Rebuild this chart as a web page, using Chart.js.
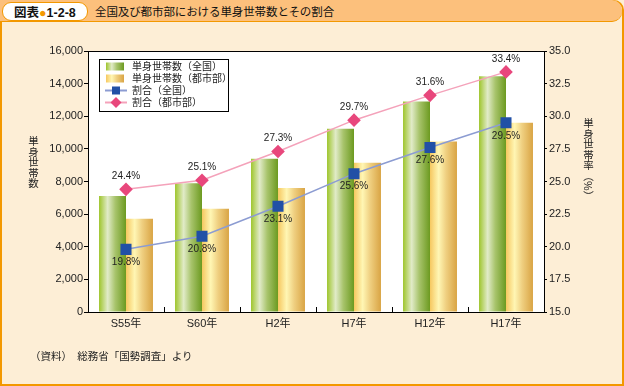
<!DOCTYPE html>
<html>
<head>
<meta charset="utf-8">
<script src="https://cdn.jsdelivr.net/npm/chart.js@4.4.0/dist/chart.umd.min.js"></script>
<style>
  html, body { margin: 0; padding: 0; background: #fdeed6; }
  #wrap { position: relative; width: 624px; height: 386px; overflow: hidden; font-family: "Noto Sans CJK JP", sans-serif; }
  #frame { position: absolute; left: 0; top: 0; width: 620px; height: 382px; border: 2px solid #f39800; border-radius: 0 10px 0 0; background: #fdeed6; }
  #titlebar { position: absolute; left: 0; top: 0; width: 622px; height: 21px; background: #fcc07c; border-bottom: 1.5px solid #f39800; border-radius: 0 10px 10px 0; }
  #pill { position: absolute; left: 2px; top: 2px; width: 84px; height: 17px; background: #fff; border: 1px solid #f39800; border-radius: 9px; font-size: 12.5px; font-weight: bold; line-height: 17px; color: #111; }
  #pill .a { position: absolute; left: 11px; top: 0; }
  #pill .dot { color: #f39800; font-family: "Liberation Sans", sans-serif; }
  #pill .n { font-family: "Liberation Sans", Arial, sans-serif; }
  #title { position: absolute; left: 95px; top: 3px; font-size: 11.5px; line-height: 17px; color: #111; letter-spacing: -0.1px; }
  canvas { position: absolute; left: 0; top: 0; }
  .vt { position: absolute; writing-mode: vertical-rl; text-orientation: mixed; font-size: 10.5px; color: #222; line-height: 11px; }
  #footer { position: absolute; left: 30px; top: 348px; font-size: 10.5px; color: #222; white-space: pre; }
</style>
</head>
<body>
<div id="wrap">
  <div id="frame"></div>
  <div id="titlebar"></div>
  <div id="pill"><span class="a">図表<span class="dot">●</span><span class="n">1-2-8</span></span></div>
  <div id="title">全国及び都市部における単身世帯数とその割合</div>
  <canvas id="c" width="624" height="386"></canvas>
  <div class="vt" style="left:28px; top:136px;">単身世帯数</div>
  <div class="vt" style="left:583px; top:118px;">単身世帯率（%）</div>
  <div id="footer">（資料）　総務省「国勢調査」より</div>
</div>
<script>
// ---- data ----
const categories = ["S55年", "S60年", "H2年", "H7年", "H12年", "H17年"];
const householdsNational = [7105, 7895, 9390, 11239, 12911, 14457];
const householdsUrban = [5720, 6330, 7600, 9150, 10450, 11600];
const rateNational = [19.8, 20.8, 23.1, 25.6, 27.6, 29.5];
const rateUrban = [24.4, 25.1, 27.3, 29.7, 31.6, 33.4];
const seriesNames = ["単身世帯数（全国）", "単身世帯数（都市部）", "割合（全国）", "割合（都市部）"];

const CAT_PCT = 0.71;
const greenStops = [[0, '#9ec52c'], [0.32, '#e1ebc8'], [0.6, '#a8c46c'], [1, '#6c9a20']];
const yellowStops = [[0, '#f6c860'], [0.32, '#fff6b4'], [0.6, '#efcf80'], [1, '#d9a444']];

function barGradient(ctx, stops, fallback) {
  const chart = ctx.chart;
  const xs = chart.scales && chart.scales.x;
  if (!xs || ctx.type !== 'data' || !xs.width) return fallback;
  const center = xs.getPixelForValue(ctx.dataIndex);
  const catW = xs.width / categories.length;
  const barW = catW * CAT_PCT / 2;
  const x0 = ctx.datasetIndex === 0 ? center - barW : center;
  const g = chart.ctx.createLinearGradient(x0, 0, x0 + barW, 0);
  stops.forEach(s => g.addColorStop(s[0], s[1]));
  return g;
}

const LABEL_FONT = '10px "Liberation Sans", Arial, sans-serif';
const JP_FONT = '10px "Noto Sans CJK JP", sans-serif';

const framePlugin = {
  id: 'framePlugin',
  beforeDraw(chart) {
    const a = chart.chartArea, c = chart.ctx;
    c.save();
    c.fillStyle = '#ffffff';
    c.fillRect(a.left, a.top, a.right - a.left, a.bottom - a.top);
    c.restore();
  },
  afterDatasetsDraw(chart) {
    const c = chart.ctx, a = chart.chartArea;
    // value labels
    c.save();
    c.font = LABEL_FONT;
    c.fillStyle = '#222';
    c.textAlign = 'center';
    c.textBaseline = 'middle';
    [2, 3].forEach(di => {
      const meta = chart.getDatasetMeta(di);
      const vals = chart.data.datasets[di].data;
      meta.data.forEach((pt, i) => {
        const dy = di === 3 ? -13 : 13;
        c.fillText(vals[i].toFixed(1) + '%', pt.x, pt.y + dy);
      });
    });
    c.restore();
  },
  afterDraw(chart) {
    const c = chart.ctx, a = chart.chartArea, xs = chart.scales.x;
    c.save();
    c.strokeStyle = '#000';
    c.lineWidth = 1;
    // top border
    c.beginPath();
    c.moveTo(a.left, a.top + 0.5);
    c.lineTo(a.right, a.top + 0.5);
    c.stroke();
    // inner category ticks
    const catW = xs.width / categories.length;
    for (let k = 1; k < categories.length; k++) {
      const x = Math.round(xs.left + catW * k) + 0.5;
      c.beginPath();
      c.moveTo(x, a.bottom);
      c.lineTo(x, a.bottom - 5);
      c.stroke();
    }
    // legend
    const lx = 99, ly = 59, lw = 129, lh = 52;
    c.fillStyle = '#fff';
    c.fillRect(lx, ly, lw, lh);
    c.strokeRect(lx + 0.5, ly + 0.5, lw, lh);
    const rows = [66.5, 78.5, 90.5, 102.5];
    // bar swatches
    [[greenStops, 0], [yellowStops, 1]].forEach(([stops, r]) => {
      const g = c.createLinearGradient(106, 0, 124, 0);
      stops.forEach(s => g.addColorStop(s[0], s[1]));
      c.fillStyle = g;
      c.fillRect(106, rows[r] - 4, 18, 8);
    });
    // line swatches
    c.lineWidth = 2;
    c.strokeStyle = '#8c9cd2';
    c.beginPath(); c.moveTo(105, rows[2]); c.lineTo(127, rows[2]); c.stroke();
    c.fillStyle = '#2150a6';
    c.fillRect(112, rows[2] - 4, 8, 8);
    c.strokeStyle = '#f4a2ba';
    c.beginPath(); c.moveTo(105, rows[3]); c.lineTo(127, rows[3]); c.stroke();
    c.fillStyle = '#e8477c';
    c.beginPath();
    c.moveTo(116, rows[3] - 5.5); c.lineTo(121.5, rows[3]); c.lineTo(116, rows[3] + 5.5); c.lineTo(110.5, rows[3]);
    c.closePath(); c.fill();
    c.font = JP_FONT;
    c.fillStyle = '#222';
    c.textAlign = 'left';
    c.textBaseline = 'middle';
    seriesNames.forEach((n, i) => c.fillText(n, 132, rows[i]));
    c.restore();
  }
};

const chart = new Chart(document.getElementById('c'), {
  type: 'bar',
  data: {
    labels: categories,
    datasets: [
      { type: 'bar', label: seriesNames[0], data: householdsNational, yAxisID: 'y',
        backgroundColor: ctx => barGradient(ctx, greenStops, '#9ec52c'),
        barPercentage: 1, categoryPercentage: CAT_PCT, order: 2 },
      { type: 'bar', label: seriesNames[1], data: householdsUrban, yAxisID: 'y',
        backgroundColor: ctx => barGradient(ctx, yellowStops, '#f6c860'),
        barPercentage: 1, categoryPercentage: CAT_PCT, order: 2 },
      { type: 'line', label: seriesNames[2], data: rateNational, yAxisID: 'y2',
        borderColor: '#8c9cd2', borderWidth: 1.5, pointStyle: 'rect', pointRadius: 7.8,
        pointBackgroundColor: '#2150a6', pointBorderWidth: 0, pointBorderColor: '#2150a6', order: 1 },
      { type: 'line', label: seriesNames[3], data: rateUrban, yAxisID: 'y2',
        borderColor: '#f4a2ba', borderWidth: 1.5, pointStyle: 'rectRot', pointRadius: 6.8,
        pointBackgroundColor: '#e8477c', pointBorderWidth: 0, pointBorderColor: '#e8477c', order: 0 }
    ]
  },
  options: {
    responsive: false,
    animation: false,
    events: [],
    layout: { padding: { top: 51, left: 0, right: 0, bottom: 0 } },
    plugins: { legend: { display: false }, tooltip: { enabled: false } },
    scales: {
      x: {
        offset: true,
        grid: { display: false, drawTicks: false },
        border: { display: true, color: '#000', width: 1 },
        ticks: { color: '#222', font: { family: '"Liberation Sans", "Noto Sans CJK JP", sans-serif', size: 11 }, padding: 5 },
        afterFit: s => { s.height = 74; }
      },
      y: {
        position: 'left', min: 0, max: 16000,
        ticks: { stepSize: 2000, color: '#222', padding: 1,
          font: { family: '"Liberation Sans", Arial, sans-serif', size: 11 },
          callback: v => v.toLocaleString('en-US') },
        grid: { drawOnChartArea: false, drawTicks: true, tickLength: 4, color: '#000' },
        border: { display: true, color: '#000', width: 1 },
        afterFit: s => { s.width = 88; }
      },
      y2: {
        position: 'right', min: 15, max: 35,
        ticks: { stepSize: 2.5, color: '#222', padding: 2,
          font: { family: '"Liberation Sans", Arial, sans-serif', size: 11 },
          callback: v => v.toFixed(1) },
        grid: { drawOnChartArea: false, drawTicks: true, tickLength: 3, color: '#000' },
        border: { display: true, color: '#000', width: 1 },
        afterFit: s => { s.width = 80; }
      }
    }
  },
  plugins: [framePlugin]
});
</script>
</body>
</html>
